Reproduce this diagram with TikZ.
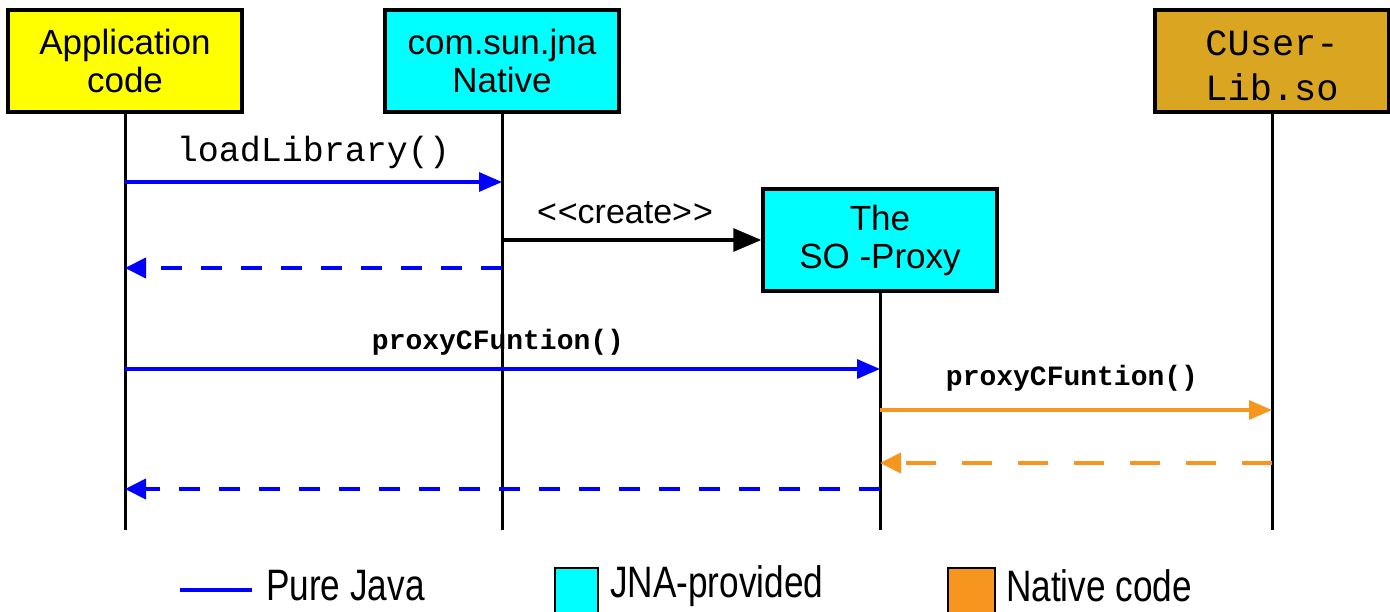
\documentclass[tikz,border=0pt]{standalone}
\usepackage{fontspec}
\setmainfont{Liberation Sans}
\newfontfamily\monof{Liberation Mono}
\usetikzlibrary{arrows.meta}
\definecolor{jyellow}{RGB}{255,255,0}
\definecolor{jcyan}{RGB}{0,255,255}
\definecolor{jgold}{RGB}{218,165,32}
\definecolor{jorange}{RGB}{247,150,30}
\definecolor{jblue}{RGB}{0,0,255}
\tikzset{
  objbox/.style={draw=black, line width=3.5pt, minimum width=234pt, minimum height=102pt, inner sep=0pt, align=center, font=\fontsize{35}{38}\selectfont},
  lifeline/.style={draw=black, line width=3pt},
  call/.style={line width=3.2pt, -{Triangle[length=23pt,width=19pt]}},
  ret/.style={line width=4pt, dash pattern=on 21pt off 19pt, -{Triangle[length=21pt,width=20pt]}},
  monolbl/.style={font=\monof\fontsize{35}{38}\selectfont, inner sep=0pt},
  boldlbl/.style={font=\monof\bfseries\fontsize{28}{30}\selectfont, inner sep=0pt},
  legtext/.style={anchor=west, inner sep=0pt, xscale=0.8, font=\fontsize{44}{44}\selectfont}
}
\begin{document}
\begin{tikzpicture}[x=1pt,y=-1pt]
\useasboundingbox (0,0) rectangle (1390,612);
% objects
\node[objbox, fill=jyellow] (app) at (125,61) {Application\\code};
\node[objbox, fill=jcyan] (jna) at (502,61) {com.sun.jna\\Native};
\node[objbox, fill=jcyan] (proxy) at (880,240) {The\\SO -Proxy};
\node[objbox, fill=jgold] (lib) at (1272,61) {};
\node[align=center, inner sep=0pt, font=\monof\fontsize{37}{45}\selectfont] (libtxt) at (1272,66) {CUser-\\Lib.so};
% lifeline ends
\coordinate (appE) at (125,530);
\coordinate (jnaE) at (502,530);
\coordinate (proxyE) at (880,530);
\coordinate (libE) at (1272,530);
\draw[lifeline] (app.south) -- (appE);
\draw[lifeline] (jna.south) -- (jnaE);
\draw[lifeline] (proxy.south) -- (proxyE);
\draw[lifeline] (lib.south) -- (libE);
% message points
\coordinate (a1) at (125,182); \coordinate (j1) at (502,182);
\coordinate (j2) at (502,268); \coordinate (a2) at (125,268);
\coordinate (j3) at (502,240); \coordinate (p3) at (proxy.west |- 0,240);
\coordinate (a4) at (125,369); \coordinate (p4) at (880,369);
\coordinate (p5) at (880,410); \coordinate (l5) at (1272,410);
\coordinate (l6) at (1272,463); \coordinate (p6) at (880,463);
\coordinate (p7) at (880,489); \coordinate (a7) at (125,489);
% messages
\draw[call, jblue] (a1) -- (j1) node[midway, above=12pt, monolbl, text=black] (m1) {loadLibrary()};
\draw[ret, jblue] (j2) -- (a2);
\draw[call, black, -{Triangle[length=28pt,width=23pt]}] (j3) -- (p3);
\node[font=\fontsize{34}{36}\selectfont, inner sep=0pt] (cr) at (625,213) {{<}\kern1pt{<}create{>}\kern1pt{>}};
\draw[call, jblue] (a4) -- (p4);
\node[boldlbl] (m4) at (498,342) {proxyCFuntion()};
\draw[call, jorange] (p5) -- (l5);
\node[boldlbl] (m5) at (1072,378) {proxyCFuntion()};
\draw[ret, jorange, line width=4pt, dash pattern=on 30pt off 26pt] (l6) -- (p6);
\draw[ret, jblue] (p7) -- (a7);
% legend
\coordinate (lg1) at (180,590); \coordinate (lg2) at (252,590);
\draw[jblue, line width=4pt] (lg1) -- (lg2);
\node[legtext] (lgt1) at (266,586) {Pure Java};
\node[draw=black, line width=2pt, fill=jcyan, minimum width=43pt, minimum height=50pt, inner sep=0pt] (lgb2) at (576.5,593) {};
\node[legtext] (lgt2) at (610,586) {JNA-provided};
\node[draw=black, line width=2pt, fill=jorange, minimum width=47pt, minimum height=50pt, inner sep=0pt] (lgb3) at (971.5,593) {};
\node[legtext] (lgt3) at (1006,586) {Native code};
\end{tikzpicture}
\end{document}
